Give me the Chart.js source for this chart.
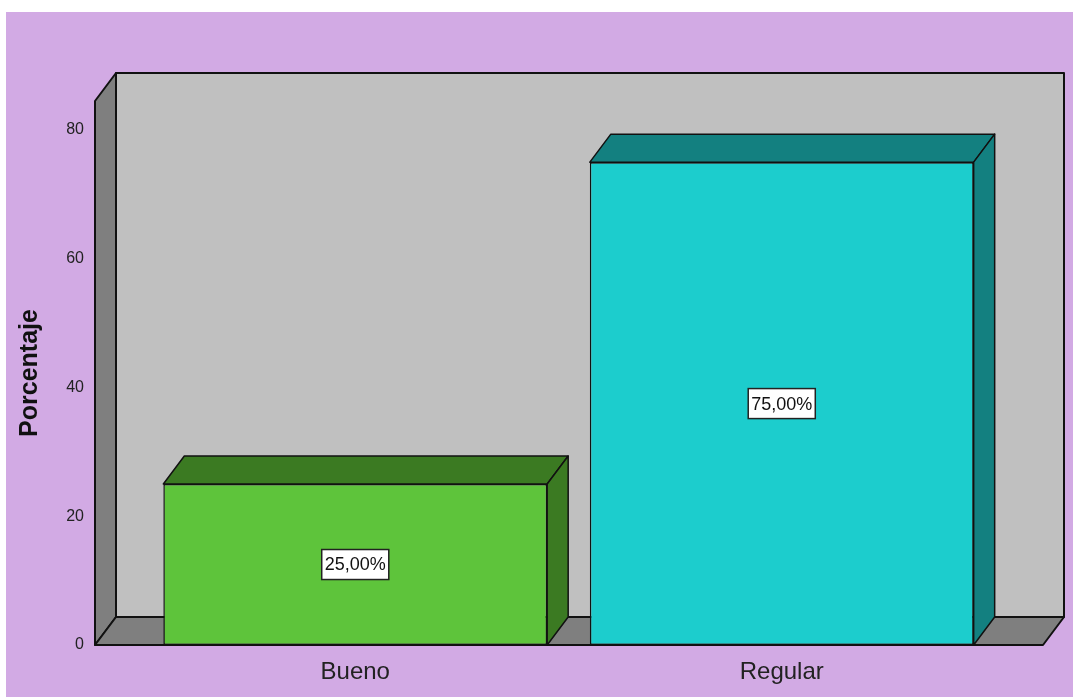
<!DOCTYPE html>
<html>
<head>
<meta charset="utf-8">
<script src="https://cdn.jsdelivr.net/npm/chart.js@4/dist/chart.umd.min.js"></script>
<style>
  html, body { margin: 0; background: #fff; }
  #wrap { position: absolute; left: 6px; top: 12px; width: 1067px; height: 685px; background: #d2aae4; }
</style>
</head>
<body>
<div id="wrap"><canvas id="chart" width="1067" height="685"></canvas></div>
<script>
const categories = ['Bueno', 'Regular']
const percentages = [25, 75]
const yTicks = [0, 20, 40, 60, 80]
const faceColors = ['#5ec43b', '#1ccdcd']
const shadeColors = ['#3b7a22', '#138080']

// depth of the 3d walls and bars
const DX = 21
const DY = -28
// floor sticks out past the outer bars
const PAD_L = 47
const PAD_R = 48

const FONT = "'Liberation Sans', Arial, sans-serif"

function poly(ctx, pts, fill) {
  ctx.beginPath()
  pts.forEach(([x, y], i) => (i ? ctx.lineTo(x, y) : ctx.moveTo(x, y)))
  ctx.closePath()
  ctx.fillStyle = fill
  ctx.fill()
  ctx.stroke()
}

const box3d = {
  id: 'box3d',
  beforeDatasetsDraw(chart) {
    const { ctx, chartArea: a } = chart
    const l = a.left - PAD_L
    const r = a.right + PAD_R
    const t = a.top
    const b = a.bottom
    ctx.save()
    ctx.lineJoin = 'round'
    ctx.strokeStyle = '#111'
    ctx.lineWidth = 2
    // back wall, left wall, floor
    poly(ctx, [[l + DX, t + DY], [r + DX, t + DY], [r + DX, b + DY], [l + DX, b + DY]], '#c0c0c0')
    poly(ctx, [[l, t], [l + DX, t + DY], [l + DX, b + DY], [l, b]], '#7f7f7f')
    poly(ctx, [[l, b], [l + DX, b + DY], [r + DX, b + DY], [r, b]], '#7f7f7f')

    // top and side faces of the bars
    ctx.lineWidth = 1.5
    chart.getDatasetMeta(0).data.forEach((bar, i) => {
      const x0 = bar.x - bar.width / 2
      const x1 = bar.x + bar.width / 2
      poly(ctx, [[x0, bar.y], [x0 + DX, bar.y + DY], [x1 + DX, bar.y + DY], [x1, bar.y]], shadeColors[i])
      poly(ctx, [[x1, bar.y], [x1 + DX, bar.y + DY], [x1 + DX, bar.base + DY], [x1, bar.base]], shadeColors[i])
    })
    ctx.restore()
  },
  afterDatasetsDraw(chart) {
    const { ctx } = chart
    ctx.save()
    ctx.font = '18px ' + FONT
    ctx.textAlign = 'center'
    ctx.textBaseline = 'middle'
    chart.getDatasetMeta(0).data.forEach((bar, i) => {
      const text = percentages[i].toFixed(2).replace('.', ',') + '%'
      const cy = (bar.y + bar.base) / 2
      const w = ctx.measureText(text).width + 6
      const h = 30
      ctx.fillStyle = '#fff'
      ctx.fillRect(bar.x - w / 2, cy - h / 2, w, h)
      ctx.strokeStyle = '#222'
      ctx.lineWidth = 1.5
      ctx.strokeRect(bar.x - w / 2, cy - h / 2, w, h)
      ctx.fillStyle = '#111'
      ctx.fillText(text, bar.x, cy + 1)
    })
    ctx.restore()
  },
}

new Chart(document.getElementById('chart'), {
  type: 'bar',
  data: {
    labels: categories,
    datasets: [
      {
        data: percentages,
        backgroundColor: faceColors,
        borderColor: '#111',
        borderWidth: 1.5,
        borderSkipped: false,
        categoryPercentage: 1,
        barPercentage: 0.9,
      },
    ],
  },
  options: {
    responsive: false,
    animation: false,
    layout: { padding: { left: 0, right: 78, top: 89, bottom: 0 } },
    plugins: {
      legend: { display: false },
      tooltip: { enabled: false },
    },
    scales: {
      x: {
        grid: { display: false, drawTicks: false },
        border: { display: false },
        ticks: { color: '#222', padding: 13, font: { family: FONT, size: 24 } },
        afterFit(scale) { scale.height = 52 },
      },
      y: {
        min: 0,
        max: 84.5,
        grid: { display: false, drawTicks: false },
        border: { display: false },
        afterBuildTicks(scale) { scale.ticks = yTicks.map((v) => ({ value: v })) },
        ticks: { color: '#222', padding: 58, font: { family: FONT, size: 16 } },
        title: {
          display: true,
          text: 'Porcentaje',
          color: '#111',
          padding: { top: 9, bottom: 0 },
          font: { family: FONT, size: 25, weight: 'bold' },
        },
        afterFit(scale) {
          // labels sit well left of the wall, so the big tick padding
          // should not push the plot area in vertically
          scale.width = 136
          scale.paddingTop = 0
          scale.paddingBottom = 0
        },
      },
    },
  },
  plugins: [box3d],
})
</script>
</body>
</html>
